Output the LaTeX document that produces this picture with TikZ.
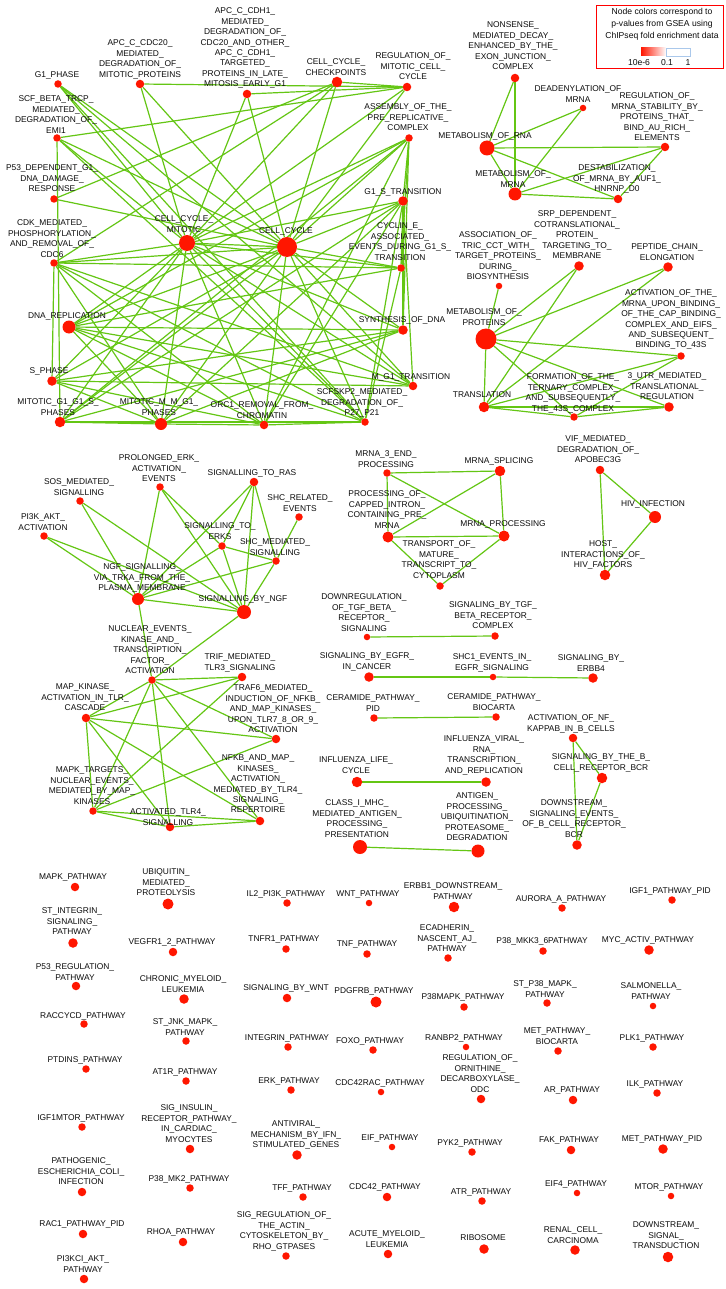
\documentclass[tikz,border=0pt]{standalone}
\usepackage{fontspec}
\newfontfamily\lf{Liberation Sans}
\usetikzlibrary{backgrounds}
\definecolor{nodered}{RGB}{255,22,0}
\definecolor{edgegreen}{RGB}{100,198,20}
\definecolor{lbltext}{RGB}{12,12,12}
\definecolor{legblue}{RGB}{170,200,235}
\tikzset{
  rdot/.style={circle, fill=nodered, draw=none, inner sep=0pt},
  lbl/.style={font={\lf\fontsize{8.4}{10.4}\selectfont}, align=center, inner sep=0pt, anchor=north, text=lbltext},
  gline/.style={draw=edgegreen, line width=1.2pt},
  legtxt/.style={font={\lf\fontsize{8.6}{12}\selectfont}, align=center, inner sep=0pt, anchor=north, text=lbltext}
}
\newcommand{\mkdot}[4]{\node[rdot, minimum size=#4pt] (#1) at (#2,#3) {};}
\newcommand{\mklab}[4]{\node[lbl] (#1l) at (#2,{#3-3.1}) {#4};}
\begin{document}
\catcode`\_=12
\begin{tikzpicture}[x=1pt,y=-1pt]
\useasboundingbox (0,0) rectangle (725,1289);
% ---------- cluster 1: cell cycle
\mkdot{g1}{58}{84}{7.5}
\mkdot{apc20}{140}{84}{8.5}
\mkdot{cdh1}{247}{94}{8.5}
\mkdot{chk}{337}{82}{10.5}
\mkdot{reg}{407}{87}{8.5}
\mkdot{scf}{57}{138}{7.5}
\mkdot{asm}{409}{138}{7.5}
\mkdot{p53}{54}{199}{7.5}
\mkdot{g1s}{403}{201}{9.5}
\mkdot{ccm}{187}{243}{16}
\mkdot{cc}{287}{247}{20}
\mkdot{cdk}{54}{263}{7.5}
\mkdot{cyc}{401}{268}{7.5}
\mkdot{dna}{69}{327}{13}
\mkdot{syn}{403}{330}{9.5}
\mkdot{sph}{52}{381}{9.5}
\mkdot{mg1}{413}{386}{8.5}
\mkdot{mgs}{60}{422}{10.5}
\mkdot{mmg}{161}{424}{12}
\mkdot{orc}{264}{425}{8.5}
\mkdot{skp}{365}{422}{7.5}
\mklab{g1}{57}{75}{G1_PHASE}
\mklab{apc20}{140}{43}{APC_C_CDC20_\\MEDIATED_\\DEGRADATION_OF_\\MITOTIC_PROTEINS}
\mklab{cdh1}{245}{11}{APC_C_CDH1_\\MEDIATED_\\DEGRADATION_OF_\\CDC20_AND_OTHER_\\APC_C_CDH1_\\TARGETED_\\PROTEINS_IN_LATE_\\MITOSIS_EARLY_G1}
\mklab{chk}{336}{62}{CELL_CYCLE_\\CHECKPOINTS}
\mklab{reg}{413}{56}{REGULATION_OF_\\MITOTIC_CELL_\\CYCLE}
\mklab{scf}{56}{99}{SCF_BETA_TRCP_\\MEDIATED_\\DEGRADATION_OF_\\EMI1}
\mklab{asm}{408}{107}{ASSEMBLY_OF_THE_\\PRE_REPLICATIVE_\\COMPLEX}
\mklab{p53}{52}{168}{P53_DEPENDENT_G1_\\DNA_DAMAGE_\\RESPONSE}
\mklab{g1s}{403}{192}{G1_S_TRANSITION}
\mklab{ccm}{184}{219}{CELL_CYCLE_\\MITOTIC}
\mklab{cc}{286}{231}{CELL_CYCLE}
\mklab{cdk}{52}{223}{CDK_MEDIATED_\\PHOSPHORYLATION_\\AND_REMOVAL_OF_\\CDC6}
\mklab{cyc}{400}{226}{CYCLIN_E_\\ASSOCIATED_\\EVENTS_DURING_G1_S_\\TRANSITION}
\mklab{dna}{67}{316}{DNA_REPLICATION}
\mklab{syn}{402}{320}{SYNTHESIS_OF_DNA}
\mklab{sph}{49}{371}{S_PHASE}
\mklab{mg1}{411}{377}{M_G1_TRANSITION}
\mklab{mgs}{58}{402}{MITOTIC_G1_G1_S_\\PHASES}
\mklab{mmg}{159}{402}{MITOTIC_M_M_G1_\\PHASES}
\mklab{orc}{262}{405}{ORC1_REMOVAL_FROM_\\CHROMATIN}
\mklab{skp}{362}{392}{SCFSKP2_MEDIATED_\\DEGRADATION_OF_\\P27_P21}
% ---------- cluster 2: RNA
\mkdot{nmd}{515}{78}{8.5}
\mkdot{dead}{583}{108}{6.5}
\mkdot{rstab}{665}{147}{8.5}
\mkdot{rna}{487}{148}{15}
\mkdot{mrna}{515}{194}{13}
\mkdot{dest}{618}{199}{8.5}
\mklab{nmd}{513}{25}{NONSENSE_\\MEDIATED_DECAY_\\ENHANCED_BY_THE_\\EXON_JUNCTION_\\COMPLEX}
\mklab{dead}{578}{89}{DEADENYLATION_OF\\MRNA}
\mklab{rstab}{657}{96}{REGULATION_OF_\\MRNA_STABILITY_BY_\\PROTEINS_THAT_\\BIND_AU_RICH_\\ELEMENTS}
\mklab{rna}{485}{136}{METABOLISM_OF_RNA}
\mklab{mrna}{513}{174}{METABOLISM_OF_\\MRNA}
\mklab{dest}{617}{168}{DESTABILIZATION_\\OF_MRNA_BY_AUF1_\\HNRNP_D0}
% ---------- legend
\node[draw=red, line width=1.4pt, minimum width=127pt, minimum height=63pt, inner sep=0pt] (legend) at (660,37) {};
\node[legtxt] (legt) at (662,8) {Node colors correspond to\\p-values from GSEA using\\ChIPseq fold enrichment data};
\shade[left color=nodered, right color=white] (641,48) rectangle (666,56);
\draw[legblue, line width=0.6pt, fill=white] (666,48) rectangle (690,56);
\node[lbl, font={\lf\fontsize{8.6}{10}\selectfont}] (leg1) at (639,{62-3.1}) {10e-6};
\node[lbl, font={\lf\fontsize{8.6}{10}\selectfont}] (leg2) at (667,{62-3.1}) {0.1};
\node[lbl, font={\lf\fontsize{8.6}{10}\selectfont}] (leg3) at (688,{62-3.1}) {1};
% ---------- cluster 3: proteins
\mkdot{srp}{579}{266}{9.5}
\mkdot{assoc}{499}{286}{6.5}
\mkdot{pep}{668}{267}{9.5}
\mkdot{metp}{486}{339}{21}
\mkdot{act}{681}{356}{7.5}
\mkdot{trans}{484}{407}{10.5}
\mkdot{form}{574}{417}{7.5}
\mkdot{utr}{669}{407}{9.5}
\mklab{srp}{577}{214}{SRP_DEPENDENT_\\COTRANSLATIONAL_\\PROTEIN_\\TARGETING_TO_\\MEMBRANE}
\mklab{assoc}{498}{235}{ASSOCIATION_OF_\\TRIC_CCT_WITH_\\TARGET_PROTEINS_\\DURING_\\BIOSYNTHESIS}
\mklab{pep}{667}{247}{PEPTIDE_CHAIN_\\ELONGATION}
\mklab{metp}{484}{312}{METABOLISM_OF_\\PROTEINS}
\mklab{act}{671}{293}{ACTIVATION_OF_THE_\\MRNA_UPON_BINDING_\\OF_THE_CAP_BINDING_\\COMPLEX_AND_EIFS_\\AND_SUBSEQUENT_\\BINDING_TO_43S}
\mklab{trans}{482}{395}{TRANSLATION}
\mklab{form}{573}{377}{FORMATION_OF_THE_\\TERNARY_COMPLEX_\\AND_SUBSEQUENTLY_\\THE_43S_COMPLEX}
\mklab{utr}{667}{376}{3_UTR_MEDIATED_\\TRANSLATIONAL_\\REGULATION}
% ---------- cluster 4: NGF / TLR
\mkdot{prol}{160}{487}{7.5}
\mkdot{ras}{254}{482}{8.5}
\mkdot{sos}{80}{501}{7.5}
\mkdot{shcr}{299}{517}{7.5}
\mkdot{pik}{44}{536}{7.5}
\mkdot{erks}{222}{546}{7.5}
\mkdot{shcm}{276}{561}{7.5}
\mkdot{ngfv}{138}{599}{12}
\mkdot{sbn}{244}{612}{14}
\mkdot{nuc}{152}{680}{7.5}
\mkdot{trif}{242}{677}{8.5}
\mkdot{mka}{86}{718}{8.5}
\mkdot{traf}{276}{739}{8.5}
\mkdot{nfkb}{260}{821}{8.5}
\mkdot{mkt}{93}{811}{7.5}
\mkdot{tlr}{170}{827}{8.5}
\mklab{prol}{159}{458}{PROLONGED_ERK_\\ACTIVATION_\\EVENTS}
\mklab{ras}{252}{473}{SIGNALLING_TO_RAS}
\mklab{sos}{79}{482}{SOS_MEDIATED_\\SIGNALLING}
\mklab{shcr}{300}{498}{SHC_RELATED_\\EVENTS}
\mklab{pik}{43}{517}{PI3K_AKT_\\ACTIVATION}
\mklab{erks}{220}{526}{SIGNALLING_TO_\\ERKS}
\mklab{shcm}{275}{542}{SHC_MEDIATED_\\SIGNALLING}
\mklab{ngfv}{142}{567}{NGF_SIGNALLING_\\VIA_TRKA_FROM_THE_\\PLASMA_MEMBRANE}
\mklab{sbn}{243}{599}{SIGNALLING_BY_NGF}
\mklab{nuc}{150}{629}{NUCLEAR_EVENTS_\\KINASE_AND_\\TRANSCRIPTION_\\FACTOR_\\ACTIVATION}
\mklab{trif}{240}{657}{TRIF_MEDIATED_\\TLR3_SIGNALING}
\mklab{mka}{85}{687}{MAP_KINASE_\\ACTIVATION_IN_TLR_\\CASCADE}
\mklab{traf}{273}{688}{TRAF6_MEDIATED_\\INDUCTION_OF_NFKB_\\AND_MAP_KINASES_\\UPON_TLR7_8_OR_9_\\ACTIVATION}
\mklab{nfkb}{258}{758}{NFKB_AND_MAP_\\KINASES_\\ACTIVATION_\\MEDIATED_BY_TLR4_\\SIGNALING_\\REPERTOIRE}
\mklab{mkt}{92}{770}{MAPK_TARGETS_\\NUCLEAR_EVENTS_\\MEDIATED_BY_MAP_\\KINASES}
\mklab{tlr}{168}{812}{ACTIVATED_TLR4_\\SIGNALLING}
% ---------- cluster 5: mRNA processing
\mkdot{mtre}{387}{473}{7.5}
\mkdot{spl}{500}{471}{10.5}
\mkdot{cap}{388}{537}{11}
\mkdot{mproc}{504}{536}{11}
\mkdot{tra}{440}{586}{7.5}
\mklab{mtre}{386}{454}{MRNA_3_END_\\PROCESSING}
\mklab{spl}{499}{461}{MRNA_SPLICING}
\mklab{cap}{387}{494}{PROCESSING_OF_\\CAPPED_INTRON_\\CONTAINING_PRE_\\MRNA}
\mklab{mproc}{503}{524}{MRNA_PROCESSING}
\mklab{tra}{439}{544}{TRANSPORT_OF_\\MATURE_\\TRANSCRIPT_TO_\\CYTOPLASM}
% ---------- HIV
\mkdot{vif}{600}{470}{8.5}
\mkdot{hiv}{655}{517}{12}
\mkdot{host}{605}{575}{10.5}
\mklab{vif}{598}{439}{VIF_MEDIATED_\\DEGRADATION_OF_\\APOBEC3G}
\mklab{hiv}{653}{504}{HIV_INFECTION}
\mklab{host}{603}{544}{HOST_\\INTERACTIONS_OF_\\HIV_FACTORS}
% ---------- small pairs
\mkdot{dtgf}{367}{637}{6.5}
\mkdot{stgf}{495}{636}{7.5}
\mklab{dtgf}{364}{597}{DOWNREGULATION_\\OF_TGF_BETA_\\RECEPTOR_\\SIGNALING}
\mklab{stgf}{493}{605}{SIGNALING_BY_TGF_\\BETA_RECEPTOR_\\COMPLEX}
\mkdot{egfr}{369}{677}{9.5}
\mkdot{shc}{493}{677}{6.5}
\mkdot{erbb}{593}{678}{9.5}
\mklab{egfr}{367}{656}{SIGNALING_BY_EGFR_\\IN_CANCER}
\mklab{shc}{492}{657}{SHC1_EVENTS_IN_\\EGFR_SIGNALING}
\mklab{erbb}{591}{658}{SIGNALING_BY_\\ERBB4}
\mkdot{cpid}{374}{718}{7.5}
\mkdot{cbio}{496}{717}{7.5}
\mklab{cpid}{373}{698}{CERAMIDE_PATHWAY_\\PID}
\mklab{cbio}{494}{697}{CERAMIDE_PATHWAY_\\BIOCARTA}
\mkdot{nfb}{573}{738}{8.5}
\mkdot{bcr}{602}{778}{10.5}
\mkdot{dsb}{577}{845}{9.5}
\mklab{nfb}{571}{718}{ACTIVATION_OF_NF_\\KAPPAB_IN_B_CELLS}
\mklab{bcr}{601}{757}{SIGNALING_BY_THE_B_\\CELL_RECEPTOR_BCR}
\mklab{dsb}{574}{803}{DOWNSTREAM_\\SIGNALING_EVENTS_\\OF_B_CELL_RECEPTOR_\\BCR}
\mkdot{flu}{357}{782}{10.5}
\mkdot{fluv}{486}{782}{9.5}
\mklab{flu}{356}{760}{INFLUENZA_LIFE_\\CYCLE}
\mklab{fluv}{484}{739}{INFLUENZA_VIRAL_\\RNA_\\TRANSCRIPTION_\\AND_REPLICATION}
\mkdot{mhc}{360}{847}{14}
\mkdot{ant}{478}{851}{13}
\mklab{mhc}{357}{803}{CLASS_I_MHC_\\MEDIATED_ANTIGEN_\\PROCESSING_\\PRESENTATION}
\mklab{ant}{477}{796}{ANTIGEN_\\PROCESSING_\\UBIQUITINATION_\\PROTEASOME_\\DEGRADATION}
% ---------- isolated nodes
\mkdot{mapk}{75}{887}{8.5}\mklab{mapk}{73}{877}{MAPK_PATHWAY}
\mkdot{ubq}{168}{904}{11}\mklab{ubq}{166}{872}{UBIQUITIN_\\MEDIATED_\\PROTEOLYSIS}
\mkdot{iltwo}{287}{903}{7.5}\mklab{iltwo}{286}{894}{IL2_PI3K_PATHWAY}
\mkdot{wnt}{369}{903}{6.5}\mklab{wnt}{368}{894}{WNT_PATHWAY}
\mkdot{erbbone}{454}{907}{10.5}\mklab{erbbone}{453}{886}{ERBB1_DOWNSTREAM_\\PATHWAY}
\mkdot{aur}{562}{908}{7.5}\mklab{aur}{561}{899}{AURORA_A_PATHWAY}
\mkdot{igf}{672}{900}{7.5}\mklab{igf}{670}{891}{IGF1_PATHWAY_PID}
\mkdot{stint}{73}{943}{9.5}\mklab{stint}{72}{911}{ST_INTEGRIN_\\SIGNALING_\\PATHWAY}
\mkdot{vegfr}{173}{952}{8.5}\mklab{vegfr}{172}{942}{VEGFR1_2_PATHWAY}
\mkdot{tnfr}{286}{949}{7.5}\mklab{tnfr}{284}{939}{TNFR1_PATHWAY}
\mkdot{tnf}{367}{954}{7.5}\mklab{tnf}{367}{944}{TNF_PATHWAY}
\mkdot{ecad}{448}{958}{7.5}\mklab{ecad}{447}{928}{ECADHERIN_\\NASCENT_AJ_\\PATHWAY}
\mkdot{pmkk}{543}{951}{7.5}\mklab{pmkk}{542}{941}{P38_MKK3_6PATHWAY}
\mkdot{myc}{649}{950}{9.5}\mklab{myc}{648}{940}{MYC_ACTIV_PATHWAY}
\mkdot{pfreg}{76}{986}{8.5}\mklab{pfreg}{75}{967}{P53_REGULATION_\\PATHWAY}
\mkdot{cml}{184}{999}{9.5}\mklab{cml}{183}{979}{CHRONIC_MYELOID_\\LEUKEMIA}
\mkdot{sbw}{287}{998}{8.5}\mklab{sbw}{286}{988}{SIGNALING_BY_WNT}
\mkdot{pdg}{376}{1002}{11}\mklab{pdg}{374}{991}{PDGFRB_PATHWAY}
\mkdot{pmapk}{464}{1007}{7.5}\mklab{pmapk}{463}{997}{P38MAPK_PATHWAY}
\mkdot{stp}{547}{1003}{7.5}\mklab{stp}{545}{984}{ST_P38_MAPK_\\PATHWAY}
\mkdot{salm}{653}{1006}{6.5}\mklab{salm}{651}{986}{SALMONELLA_\\PATHWAY}
\mkdot{raccy}{84}{1024}{7.5}\mklab{raccy}{83}{1016}{RACCYCD_PATHWAY}
\mkdot{stjnk}{186}{1041}{7.5}\mklab{stjnk}{185}{1022}{ST_JNK_MAPK_\\PATHWAY}
\mkdot{integ}{288}{1047}{7.5}\mklab{integ}{287}{1038}{INTEGRIN_PATHWAY}
\mkdot{foxo}{373}{1050}{7.5}\mklab{foxo}{370}{1041}{FOXO_PATHWAY}
\mkdot{ranbp}{466}{1047}{6.5}\mklab{ranbp}{464}{1038}{RANBP2_PATHWAY}
\mkdot{metb}{558}{1051}{7.5}\mklab{metb}{557}{1031}{MET_PATHWAY_\\BIOCARTA}
\mkdot{plk}{653}{1047}{7.5}\mklab{plk}{652}{1038}{PLK1_PATHWAY}
\mkdot{ptd}{86}{1069}{7.5}\mklab{ptd}{85}{1060}{PTDINS_PATHWAY}
\mkdot{atr}{186}{1081}{7.5}\mklab{atr}{185}{1072}{AT1R_PATHWAY}
\mkdot{erk}{291}{1090}{7.5}\mklab{erk}{289}{1081}{ERK_PATHWAY}
\mkdot{cdcrac}{381}{1092}{6.5}\mklab{cdcrac}{380}{1083}{CDC42RAC_PATHWAY}
\mkdot{odc}{481}{1099}{8.5}\mklab{odc}{480}{1058}{REGULATION_OF_\\ORNITHINE_\\DECARBOXYLASE_\\ODC}
\mkdot{arp}{573}{1100}{8.5}\mklab{arp}{572}{1090}{AR_PATHWAY}
\mkdot{ilk}{657}{1093}{7.5}\mklab{ilk}{655}{1084}{ILK_PATHWAY}
\mkdot{igfm}{82}{1127}{7.5}\mklab{igfm}{81}{1118}{IGF1MTOR_PATHWAY}
\mkdot{ins}{190}{1149}{8.5}\mklab{ins}{189}{1108}{SIG_INSULIN_\\RECEPTOR_PATHWAY_\\IN_CARDIAC_\\MYOCYTES}
\mkdot{antiv}{297}{1155}{9.5}\mklab{antiv}{296}{1124}{ANTIVIRAL_\\MECHANISM_BY_IFN_\\STIMULATED_GENES}
\mkdot{eif}{392}{1147}{6.5}\mklab{eif}{390}{1138}{EIF_PATHWAY}
\mkdot{pyk}{472}{1152}{7.5}\mklab{pyk}{470}{1143}{PYK2_PATHWAY}
\mkdot{fak}{571}{1150}{8.5}\mklab{fak}{569}{1140}{FAK_PATHWAY}
\mkdot{metpid}{663}{1149}{9.5}\mklab{metpid}{662}{1139}{MET_PATHWAY_PID}
\mkdot{ecoli}{82}{1192}{8.5}\mklab{ecoli}{81}{1161}{PATHOGENIC_\\ESCHERICHIA_COLI_\\INFECTION}
\mkdot{pmk}{190}{1188}{7.5}\mklab{pmk}{189}{1179}{P38_MK2_PATHWAY}
\mkdot{tff}{303}{1197}{7.5}\mklab{tff}{302}{1188}{TFF_PATHWAY}
\mkdot{cdcf}{387}{1197}{8.5}\mklab{cdcf}{385}{1187}{CDC42_PATHWAY}
\mkdot{atrp}{482}{1201}{7.5}\mklab{atrp}{481}{1192}{ATR_PATHWAY}
\mkdot{eiff}{577}{1193}{6.5}\mklab{eiff}{576}{1184}{EIF4_PATHWAY}
\mkdot{mtor}{671}{1196}{6.5}\mklab{mtor}{669}{1187}{MTOR_PATHWAY}
\mkdot{racone}{83}{1234}{8.5}\mklab{racone}{82}{1224}{RAC1_PATHWAY_PID}
\mkdot{rhoa}{183}{1242}{8.5}\mklab{rhoa}{181}{1232}{RHOA_PATHWAY}
\mkdot{actin}{286}{1256}{7.5}\mklab{actin}{284}{1215}{SIG_REGULATION_OF_\\THE_ACTIN_\\CYTOSKELETON_BY_\\RHO_GTPASES}
\mkdot{aml}{388}{1254}{8.5}\mklab{aml}{387}{1234}{ACUTE_MYELOID_\\LEUKEMIA}
\mkdot{ribo}{484}{1249}{9.5}\mklab{ribo}{483}{1238}{RIBOSOME}
\mkdot{renal}{575}{1250}{9.5}\mklab{renal}{573}{1230}{RENAL_CELL_\\CARCINOMA}
\mkdot{dst}{668}{1257}{10.5}\mklab{dst}{666}{1225}{DOWNSTREAM_\\SIGNAL_\\TRANSDUCTION}
\mkdot{pikci}{84}{1279}{8.5}\mklab{pikci}{83}{1259}{PI3KCI_AKT_\\PATHWAY}
% ---------- edges
\begin{pgfonlayer}{background}
\fill[white] (0,0) rectangle (725,1289);
\foreach \a in {g1,apc20,cdh1,chk,reg,scf,asm,g1s,ccm,cdk,cyc,dna,syn,sph,mg1,mgs,mmg,orc,skp,p53}
  \draw[gline] (cc) -- (\a);
\foreach \a in {g1,apc20,cdh1,chk,reg,scf,asm,g1s,cdk,cyc,dna,syn,sph,mg1,mgs,mmg,orc,skp}
  \draw[gline] (ccm) -- (\a);
\foreach \a/\b in {apc20/reg,cdh1/reg,chk/reg,scf/reg,p53/chk,cdk/chk,scf/mgs,cdk/sph,g1/skp,g1/mg1,scf/skp,
  cdk/cyc,cdk/mmg,cdk/orc,cdk/skp,cdk/mg1,dna/syn,dna/mg1,dna/skp,dna/orc,dna/mmg,dna/asm,dna/cyc,
  sph/mg1,sph/syn,sph/orc,sph/mmg,mgs/skp,mgs/mmg,mgs/syn,mgs/g1s,mgs/asm,mmg/orc,mmg/g1s,orc/asm,orc/g1s,
  skp/g1s,asm/g1s,asm/cyc,asm/syn,g1s/cyc,g1s/syn,g1s/mg1,cyc/skp,mmg/syn,orc/skp,
  nmd/rna,nmd/mrna,dead/rna,dead/mrna,rstab/rna,rstab/mrna,rstab/dest,rna/dest,rna/mrna,mrna/dest,
  assoc/metp,srp/metp,srp/trans,pep/metp,pep/trans,metp/act,metp/trans,metp/form,metp/utr,trans/act,trans/form,trans/utr,form/act,form/utr,
  prol/ngfv,prol/sbn,prol/erks,ras/ngfv,ras/erks,ras/sbn,ras/shcm,sos/ngfv,sos/sbn,pik/ngfv,pik/sbn,shcr/shcm,shcm/sbn,
  erks/ngfv,erks/shcm,erks/sbn,shcm/ngfv,ngfv/sbn,sbn/nuc,ngfv/nuc,
  nuc/trif,nuc/mka,nuc/traf,nuc/nfkb,nuc/tlr,nuc/mkt,mka/trif,mka/traf,mka/mkt,mka/tlr,mka/nfkb,trif/mkt,traf/mkt,mkt/tlr,mkt/nfkb,tlr/nfkb,
  mtre/spl,mtre/mproc,mtre/cap,spl/cap,spl/mproc,cap/mproc,cap/tra,mproc/tra,
  vif/hiv,vif/host,hiv/host,dtgf/stgf,egfr/shc,shc/erbb,cpid/cbio,nfb/bcr,nfb/dsb,bcr/dsb,flu/fluv,mhc/ant}
  \draw[gline] (\a) -- (\b);
\end{pgfonlayer}
\end{tikzpicture}
\end{document}
